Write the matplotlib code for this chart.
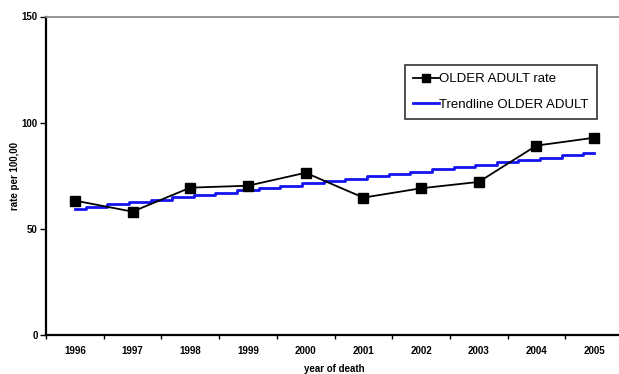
import numpy as np
import matplotlib
matplotlib.use("Agg")
import matplotlib.pyplot as plt

# Older adult death rate per 100,000 by year of death
years = ["1996", "1997", "1998", "1999", "2000", "2001", "2002", "2003", "2004", "2005"]
rate = [63.3, 58.1, 69.4, 70.3, 76.4, 64.7, 69.1, 72.1, 89.2, 92.9]

plt.rcParams["font.family"] = ["Liberation Sans", "DejaVu Sans"]

W, H = 619, 374
fig = plt.figure(figsize=(W / 100, H / 100), dpi=100)
left, right, top, bottom = 46, 623, 16.5, 335
ax = fig.add_axes([left / W, 1 - bottom / H, (right - left) / W, (bottom - top) / H])

x = np.arange(len(years))
ax.plot(x, rate, color="black", lw=1.3, marker="s", ms=7, zorder=3,
        label="OLDER ADULT rate")

# Linear trendline, drawn in small steps
slope, intercept = np.polyfit(x, rate, 1)
xs = np.append(np.arange(0, len(years) - 1, 0.375), len(years) - 1)
ax.plot(xs, slope * xs + intercept, color="#1414f0", lw=2.0, drawstyle="steps-mid",
        zorder=2, label="Trendline OLDER ADULT")

ax.set_xlim(-0.5, len(years) - 0.5)
ax.set_ylim(0, 150)
ax.set_yticks([0, 50, 100, 150])
ax.set_xticks(x)
ax.set_xticklabels(years)
ax.set_xticks(np.arange(-0.5, len(years), 1.0), minor=True)
ax.tick_params(axis="x", which="major", length=0, pad=8, labelsize=7)
ax.tick_params(axis="x", which="minor", length=3, width=1, direction="out")
ax.tick_params(axis="y", length=4, width=1, direction="out", labelsize=7, pad=2)
for lab in ax.get_xticklabels() + ax.get_yticklabels():
    lab.set_fontweight("bold")

for s in ("left", "bottom"):
    ax.spines[s].set_linewidth(1.6)
    ax.spines[s].set_color("black")
ax.spines["top"].set_color("#8c8c8c")
ax.spines["top"].set_linewidth(1.3)
ax.spines["right"].set_visible(False)

ax.set_xlabel("year of death", fontsize=7, fontweight="bold", labelpad=6)
ax.set_ylabel("rate per 100,00", fontsize=7, fontweight="bold", labelpad=0)
ax.yaxis.set_label_coords(-(left - 20) / (right - left), 0.5)

leg = ax.legend(loc="upper left", bbox_to_anchor=((405 - left) / (right - left), 1 - (65 - top) / (bottom - top)),
                frameon=True, fancybox=False, edgecolor="black", fontsize=9.5,
                handlelength=2.0, handletextpad=0.0, borderpad=0.6, labelspacing=1.0,
                borderaxespad=0, markerscale=0.8)
leg.get_frame().set_linewidth(1.2)

fig.savefig("out.png", dpi=100)
